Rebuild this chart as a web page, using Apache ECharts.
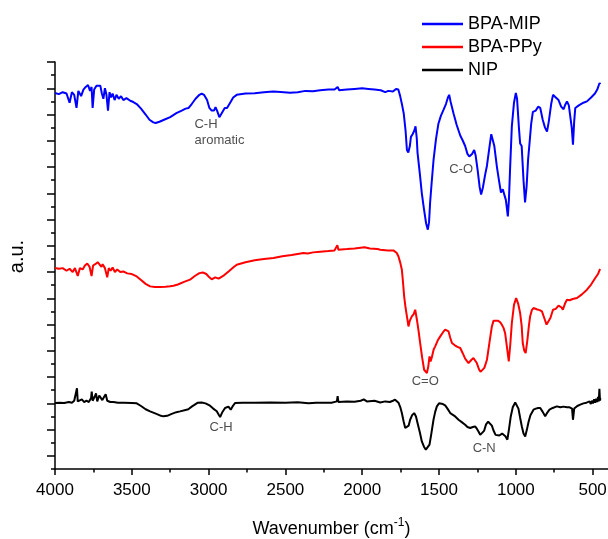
<!DOCTYPE html>
<html>
<head>
<meta charset="utf-8">
<script src="https://cdn.jsdelivr.net/npm/echarts@6/dist/echarts.min.js"></script>
<style>
  html, body { margin: 0; padding: 0; background: #fff; }
  #chart { width: 608px; height: 539px; }
</style>
</head>
<body>
<div id="chart"></div>
<script>
// FTIR spectra, wavenumber (cm-1) vs offset absorbance (a.u.)
const mipX = [4000,3975,3950,3925,3905,3890,3875,3860,3848,3830,3815,3800,3785,3772,3762,3755,3745,3730,3718,3705,3695,3685,3675,3665,3655,3645,3635,3625,3612,3600,3585,3570,3555,3535,3510,3490,3468,3440,3410,3385,3360,3345,3320,3290,3250,3210,3175,3150,3130,3110,3085,3060,3045,3030,3010,2995,2980,2965,2955,2945,2930,2922,2910,2895,2880,2868,2855,2840,2817,2760,2700,2640,2580,2530,2470,2420,2370,2320,2274,2220,2180,2160,2150,2100,2050,2000,1960,1920,1880,1850,1830,1800,1780,1765,1753,1740,1730,1718,1709,1700,1690,1683,1672,1660,1653,1645,1640,1625,1612,1598,1584,1573,1565,1558,1548,1536,1520,1504,1488,1471,1455,1442,1434,1425,1406,1385,1362,1345,1330,1315,1303,1285,1271,1262,1248,1236,1226,1215,1200,1188,1172,1160,1152,1140,1123,1110,1097,1085,1076,1065,1052,1045,1037,1026,1012,1000,992,980,972,962,950,940,930,920,911,900,889,870,855,841,825,810,797,785,770,758,740,722,705,689,680,667,655,646,636,628,620,613,590,560,537,510,485,470,461,455,450];
const mipY = [28.64,28.55,28.7,28.6,27.9,28.7,28.5,27.5,28.8,28.4,28.9,29.1,29.25,28.8,29.1,27.5,28.9,29.2,29.35,29.2,28.6,28.2,29.0,28.5,27.3,28.7,28.3,28.6,28.1,28.5,28.2,28.4,28.1,28.25,28.05,27.95,27.8,27.45,27.0,26.6,26.4,26.35,26.45,26.6,26.8,27.1,27.3,27.45,27.5,27.8,28.2,28.5,28.6,28.5,28.1,27.5,27.3,27.3,27.55,27.3,26.8,26.75,27.2,27.5,27.5,27.6,28.0,28.3,28.5,28.6,28.62,28.7,28.75,28.72,28.66,28.7,28.8,28.78,28.85,28.9,28.9,29.1,28.85,28.9,28.95,29.0,28.95,28.9,28.85,28.7,28.8,28.75,28.95,28.9,28.4,27.7,27.1,25.8,24.3,24.1,24.6,25.3,25.5,25.8,26.1,25.2,24.1,22.5,21.0,19.8,18.7,18.23,18.8,20.3,21.8,23.5,25.1,26.3,26.9,27.35,27.8,28.3,28.5,28.0,27.1,26.2,25.4,25.0,24.6,24.0,23.8,24.0,24.3,23.9,22.7,21.5,20.9,21.4,22.4,23.1,24.5,25.5,25.5,24.6,23.0,22.0,21.05,21.3,21.15,20.5,19.24,20.5,23.0,26.1,27.9,28.64,28.2,26.0,24.8,24.6,22.0,20.3,21.5,23.6,24.8,26.3,27.2,27.3,27.6,27.5,26.6,26.0,25.7,26.5,27.8,28.5,28.3,28.1,27.6,27.4,27.7,28.0,27.7,27.6,26.0,24.7,26.5,27.5,27.7,27.9,28.0,28.3,28.6,28.9,29.0,29.4,29.3];

const ppyX = [4000,3975,3950,3925,3905,3885,3870,3852,3838,3820,3805,3790,3775,3762,3752,3738,3722,3710,3698,3690,3675,3660,3650,3638,3625,3610,3595,3575,3555,3530,3500,3468,3440,3410,3381,3350,3316,3280,3250,3229,3200,3160,3121,3090,3060,3038,3015,2995,2980,2969,2957,2947,2935,2925,2900,2870,2840,2817,2760,2700,2640,2578,2520,2460,2420,2383,2370,2355,2320,2274,2220,2180,2162,2155,2100,2050,1985,1950,1900,1883,1833,1797,1775,1764,1752,1742,1735,1727,1718,1709,1699,1690,1677,1665,1655,1644,1633,1623,1610,1597,1579,1570,1562,1555,1547,1535,1525,1508,1492,1475,1460,1450,1438,1427,1416,1395,1380,1362,1345,1330,1308,1290,1276,1265,1254,1240,1230,1221,1205,1188,1172,1156,1145,1135,1115,1100,1091,1080,1070,1058,1046,1036,1026,1012,998,985,972,962,955,945,936,925,915,907,896,885,860,845,830,815,800,787,775,758,740,722,710,702,694,680,667,650,630,602,570,537,510,483,465,455,450];
const ppyY = [15.31,15.25,15.3,15.1,15.25,15.0,15.3,14.7,15.3,15.2,15.5,15.65,15.4,14.7,15.5,15.6,15.75,15.7,15.4,15.6,15.3,14.6,15.3,15.1,15.35,15.0,15.2,15.0,15.05,14.9,14.85,14.67,14.4,14.1,13.91,13.86,13.86,13.88,13.92,13.96,14.05,14.25,14.42,14.7,14.92,14.97,14.85,14.6,14.45,14.42,14.6,14.62,14.5,14.47,14.75,15.05,15.35,15.56,15.75,15.9,16.0,16.07,16.2,16.3,16.38,16.45,16.35,16.42,16.5,16.55,16.6,16.65,17.05,16.7,16.75,16.8,16.89,16.8,16.75,16.7,16.65,16.65,16.45,16.19,15.7,15.18,14.3,13.15,12.3,11.62,10.86,11.3,11.62,11.8,12.13,11.37,10.5,9.6,8.5,7.56,7.31,7.8,8.58,8.2,8.5,9.1,9.34,9.8,10.1,10.4,10.61,10.7,10.48,10.0,9.6,9.4,9.3,9.22,8.8,8.4,8.07,8.3,8.45,8.3,8.07,7.6,7.4,7.36,7.7,8.32,9.6,10.86,11.3,11.42,11.3,11.15,10.99,10.75,10.36,9.3,8.2,9.5,11.12,12.5,13.02,12.6,11.88,10.9,9.6,9.0,8.83,9.8,10.9,11.62,12.1,12.26,12.15,12.1,12.0,11.5,11.0,10.86,11.5,12.13,12.2,12.45,12.51,12.3,12.13,12.6,12.89,12.85,12.95,13.02,13.3,13.66,14.05,14.55,14.85,15.15,15.23];

const nipX = [4000,3970,3940,3910,3890,3875,3862,3857,3852,3840,3825,3810,3795,3780,3765,3761,3755,3742,3733,3725,3712,3700,3692,3680,3670,3660,3650,3640,3620,3590,3550,3500,3468,3440,3410,3381,3340,3310,3295,3270,3240,3210,3186,3150,3132,3110,3099,3070,3045,3020,2991,2970,2947,2935,2925,2912,2893,2880,2871,2863,2856,2845,2828,2780,2700,2600,2500,2420,2350,2300,2250,2200,2165,2160,2155,2100,2050,2010,1990,1970,1920,1883,1850,1820,1800,1786,1775,1764,1752,1742,1730,1720,1709,1698,1688,1675,1662,1650,1640,1625,1612,1598,1586,1575,1562,1550,1536,1525,1514,1500,1492,1475,1460,1445,1427,1400,1373,1350,1330,1315,1297,1280,1265,1253,1243,1232,1221,1207,1194,1180,1167,1156,1146,1132,1120,1108,1097,1089,1081,1068,1055,1045,1033,1020,1004,995,983,972,961,950,939,928,917,905,885,870,855,841,825,809,795,781,760,733,710,690,667,650,634,628,620,600,581,570,560,550,540,530,520,512,505,498,490,483,477,470,465,460,456,452,450];
const nipY = [5.03,5.05,5.02,5.1,5.05,5.2,5.1,6.15,5.15,5.05,5.3,5.1,5.2,5.1,5.4,5.9,5.2,5.5,5.75,5.15,5.6,5.75,5.25,5.5,5.7,5.2,5.35,5.1,5.1,5.05,5.05,5.03,5.0,4.8,4.55,4.39,4.2,4.05,4.01,4.05,4.2,4.33,4.39,4.5,4.55,4.75,4.9,5.05,5.07,5.0,4.82,4.6,4.4,4.15,3.96,4.3,4.65,4.75,4.75,4.6,4.52,4.75,5.03,5.05,5.05,5.07,5.05,5.08,5.0,5.05,5.05,5.05,5.15,5.55,5.1,5.15,5.12,5.2,5.3,5.15,5.2,5.07,5.15,5.1,5.2,5.28,5.25,5.05,4.7,4.26,3.6,3.12,2.99,3.3,3.75,4.1,4.26,4.0,3.5,2.8,2.1,1.7,1.47,1.5,1.85,2.7,3.75,4.35,4.77,5.0,5.03,4.95,4.85,4.6,4.26,4.05,3.75,3.55,3.37,3.2,3.12,3.2,3.24,3.05,2.86,2.6,2.48,2.9,3.4,3.6,3.63,3.3,2.95,2.6,2.48,2.55,2.5,2.7,2.61,2.5,2.23,3.0,4.0,4.7,5.07,5.0,4.6,3.9,3.24,2.7,2.48,3.0,3.6,4.1,4.52,4.6,4.65,4.65,4.35,4.01,4.3,4.52,4.65,4.77,4.7,4.75,4.7,4.7,4.6,3.75,4.6,4.8,4.9,4.85,5.0,4.9,5.05,4.95,5.15,4.95,5.2,5.0,5.3,5.05,5.35,5.1,5.5,5.15,6.1,5.2,5.4];

const seriesNames = ['BPA-MIP', 'BPA-PPy', 'NIP'];
const seriesColors = ['#0000ff', '#ff0000', '#000000'];

// peak annotations
const annoText = ['C-H', 'aromatic', 'C-O', 'C=O', 'C-H', 'C-N'];
const annoX = [3017, 2929, 1356, 1590, 2919, 1206];
const annoY = [26.22, 25.0, 22.8, 6.65, 3.18, 1.58];

// axis ticks
const xMajor = [4000, 3500, 3000, 2500, 2000, 1500, 1000, 500];
const xMinor = [3750, 3250, 2750, 2250, 1750, 1250, 750];
const yMajor = [1, 3, 5, 7, 9, 11, 13, 15, 17, 19, 21, 23, 25, 27, 29, 31];
const yMinor = [0, 2, 4, 6, 8, 10, 12, 14, 16, 18, 20, 22, 24, 26, 28, 30];

const FONT = 'Liberation Sans, Arial, sans-serif';
const chart = echarts.init(document.getElementById('chart'));

const pairs = (xs, ys) => xs.map((x, i) => [x, ys[i]]);
const specData = [pairs(mipX, mipY), pairs(ppyX, ppyY), pairs(nipX, nipY)];

const axisBase = {
  type: 'value',
  splitLine: { show: false },
  axisLine: { show: false },
  axisLabel: { show: false },
}

chart.setOption({
  animation: false,
  backgroundColor: '#fff',
  grid: { left: 55, right: 0, top: 62, bottom: 70, containLabel: false, outerBoundsMode: 'none' },
  legend: {
    data: seriesNames,
    orient: 'vertical',
    left: 417,
    top: 10,
    icon: 'rect',
    itemWidth: 41,
    itemHeight: 2.5,
    itemGap: 5,
    textStyle: { color: '#000', fontSize: 18, fontFamily: FONT },
  },
  xAxis: [
    {
      type: 'value',
      inverse: true,
      min: 400,
      max: 4000,
      position: 'bottom',
      splitLine: { show: false },
      axisLine: { lineStyle: { color: '#000', width: 1.5 } },
      axisTick: { customValues: xMajor, length: 6, lineStyle: { color: '#000', width: 1.5 } },
      axisLabel: {
        customValues: xMajor, margin: 13, color: '#000', fontSize: 17, fontFamily: FONT,
        formatter: v => String(v),
      },
      name: 'Wavenumber (cm{sup|-1})',
      nameLocation: 'middle',
      nameGap: 48,
      nameTextStyle: {
        color: '#000', fontSize: 18, fontFamily: FONT,
        rich: { sup: { fontSize: 12, fontFamily: FONT, color: '#000', verticalAlign: 'top', padding: [0, 0, 12, 0] } },
      },
    },
    Object.assign({}, axisBase, {
      inverse: true, min: 400, max: 4000, position: 'bottom',
      axisTick: { customValues: xMinor, length: 3.5, lineStyle: { color: '#000', width: 1.5 } },
    }),
  ],
  yAxis: [
    {
      type: 'value',
      min: 0,
      max: 31,
      position: 'left',
      splitLine: { show: false },
      axisLine: { show: true, lineStyle: { color: '#000', width: 1.5 } },
      axisTick: { show: true, customValues: yMajor, length: 8, lineStyle: { color: '#000', width: 1.5 } },
      axisLabel: { show: false },
      name: 'a.u.',
      nameLocation: 'middle',
      nameGap: 28,
      nameRotate: 90,
      nameTextStyle: { color: '#000', fontSize: 20, fontFamily: FONT, padding: [0, 0, 0, 18] },
    },
    Object.assign({}, axisBase, {
      min: 0, max: 31, position: 'left',
      axisTick: { show: true, customValues: yMinor, length: 4, lineStyle: { color: '#000', width: 1.5 } },
    }),
  ],
  series: [
    ...seriesNames.map((name, i) => ({
      name,
      type: 'line',
      data: specData[i],
      symbol: 'none',
      color: seriesColors[i],
      lineStyle: { color: seriesColors[i], width: 2 },
    })),
    {
      type: 'scatter',
      symbolSize: 0,
      silent: true,
      data: annoText.map((t, i) => ({ name: t, value: [annoX[i], annoY[i]] })),
      label: {
        show: true,
        position: 'inside',
        formatter: p => p.name,
        color: '#222',
        fontSize: 13,
        fontFamily: FONT,
      },
    },
  ],
})
</script>
</body>
</html>
